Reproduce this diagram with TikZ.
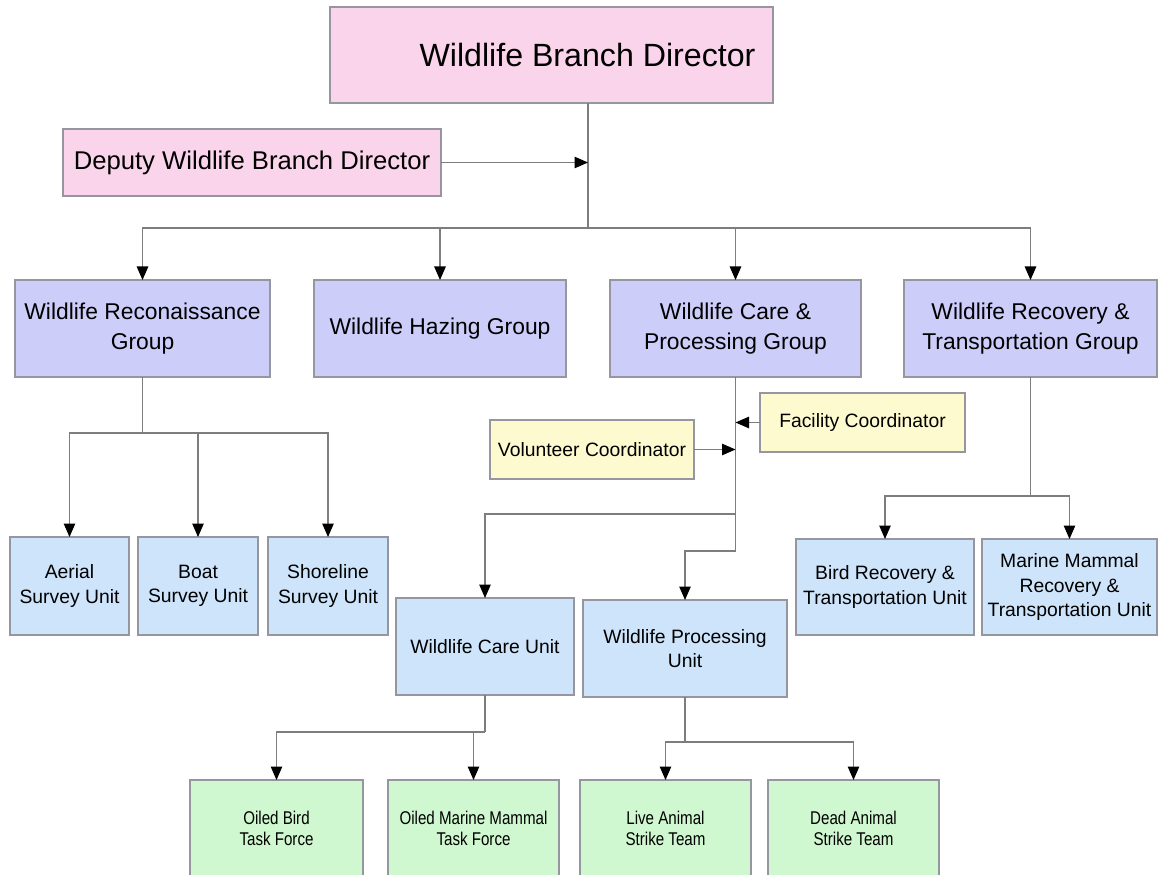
\documentclass[tikz,border=0pt]{standalone}
\usepackage{fontspec}
\setmainfont{Liberation Sans}
\newfontfamily\narrowfont[FakeStretch=0.82]{Liberation Sans}
\usepackage{xcolor}
\usepackage{tikz}
\usetikzlibrary{arrows.meta}
\definecolor{pinkfill}{RGB}{250,212,234}
\definecolor{groupfill}{RGB}{205,205,250}
\definecolor{unitfill}{RGB}{205,228,250}
\definecolor{coordfill}{RGB}{254,250,208}
\definecolor{teamfill}{RGB}{208,248,208}
\definecolor{boxline}{RGB}{150,150,160}
\definecolor{linkline}{RGB}{125,125,125}
\tikzstyle{box}=[draw=boxline, line width=0.6pt, shape=rectangle, inner sep=0pt, outer sep=0pt, align=center]
\tikzstyle{pink node}=[box, fill=pinkfill]
\tikzstyle{group node}=[box, fill=groupfill, minimum height=1.94cm, font=\fontsize{13}{17}\selectfont]
\tikzstyle{unit node}=[box, fill=unitfill, font=\fontsize{11}{14}\selectfont]
\tikzstyle{coord node}=[box, fill=coordfill, minimum height=1.18cm, font=\fontsize{11}{14}\selectfont]
\tikzstyle{team node}=[box, fill=teamfill, minimum width=3.42cm, minimum height=1.94cm, font=\narrowfont\fontsize{10.5}{12}\selectfont]
\tikzstyle{link}=[draw=linkline, line width=0.6pt]
\tikzstyle{arrow link}=[link, -{Triangle[length=0.27cm, width=0.23cm, color=black]}]
\pgfdeclarelayer{nodelayer}
\pgfdeclarelayer{edgelayer}
\pgfsetlayers{main,nodelayer,edgelayer}

\begin{document}
\begin{tikzpicture}
    	\useasboundingbox[fill=white] (0, 0) rectangle (23.18, -17.5);
    	\begin{pgfonlayer}{nodelayer}
    		\node [style=pink node, minimum width=8.86cm, minimum height=1.92cm, font=\fontsize{18.3}{22}\selectfont] (0) at (11.03, -1.1) {\hspace*{1.44cm}Wildlife Branch Director};
    		\node [style=pink node, minimum width=7.56cm, minimum height=1.34cm, font=\fontsize{14.6}{18}\selectfont] (1) at (5.04, -3.25) {Deputy Wildlife Branch Director};
    		\node [style=group node, minimum width=5.1cm] (2) at (2.85, -6.57) {Wildlife Reconaissance\\Group};
    		\node [style=group node, minimum width=5.04cm] (3) at (8.8, -6.57) {Wildlife Hazing Group};
    		\node [style=group node, minimum width=5.02cm] (4) at (14.71, -6.57) {Wildlife Care \&\\Processing Group};
    		\node [style=group node, minimum width=5.06cm] (5) at (20.61, -6.57) {Wildlife Recovery \&\\Transportation Group};
    		\node [style=unit node, minimum width=2.38cm, minimum height=1.96cm] (6) at (1.39, -11.72) {Aerial\\Survey Unit};
    		\node [style=unit node, minimum width=2.4cm, minimum height=1.96cm] (7) at (3.96, -11.72) {Boat\\Survey Unit};
    		\node [style=unit node, minimum width=2.4cm, minimum height=1.96cm] (8) at (6.56, -11.72) {Shoreline\\Survey Unit};
    		\node [style=coord node, minimum width=4.1cm] (9) at (17.25, -8.45) {Facility Coordinator};
    		\node [style=coord node, minimum width=4.08cm] (10) at (11.84, -8.99) {Volunteer Coordinator};
    		\node [style=unit node, minimum width=3.56cm, minimum height=1.94cm] (11) at (9.7, -12.93) {Wildlife Care Unit};
    		\node [style=unit node, minimum width=4.08cm, minimum height=1.94cm] (12) at (13.7, -12.97) {Wildlife Processing\\Unit};
    		\node [style=unit node, minimum width=3.56cm, minimum height=1.92cm] (13) at (17.7, -11.74) {Bird Recovery \&\\Transportation Unit};
    		\node [style=unit node, minimum width=3.5cm, minimum height=1.92cm] (14) at (21.39, -11.74) {Marine Mammal\\Recovery \&\\Transportation Unit};
    		\node [style=team node, minimum width=3.46cm] (15) at (5.53, -16.57) {Oiled Bird\\Task Force};
    		\node [style=team node] (16) at (9.47, -16.57) {Oiled Marine Mammal\\Task Force};
    		\node [style=team node] (17) at (13.31, -16.57) {Live Animal\\Strike Team};
    		\node [style=team node] (18) at (17.07, -16.57) {Dead Animal\\Strike Team};
    		\coordinate (19) at (11.76, -4.56);
    		\coordinate (20) at (2.85, -8.66);
    		\coordinate (21) at (14.71, -10.28);
    		\coordinate (22) at (14.71, -11.02);
    		\coordinate (23) at (20.61, -9.92);
    		\coordinate (24) at (9.7, -14.64);
    		\coordinate (25) at (13.7, -14.84);
    	\end{pgfonlayer}
    	\begin{pgfonlayer}{edgelayer}
    		\draw [style=link] (0.south -| 19) to (19);
    		\draw [style=arrow link] (1.east) to (1.east -| 19);
    		\foreach \n in {2,3,4,5}
    			\draw [style=arrow link] (19) -| (\n.north);
    		\draw [style=link] (2.south) to (20);
    		\foreach \n in {6,7,8}
    			\draw [style=arrow link] (20) -| (\n.north);
    		\draw [style=link] (4.south) to (22);
    		\draw [style=arrow link] (9.west) to (9.west -| 4.south);
    		\draw [style=arrow link] (10.east) to (10.east -| 4.south);
    		\draw [style=arrow link] (21) -| (11.north);
    		\draw [style=arrow link] (22) -| (12.north);
    		\draw [style=link] (5.south) to (23);
    		\foreach \n in {13,14}
    			\draw [style=arrow link] (23) -| (\n.north);
    		\draw [style=link] (11.south) to (24);
    		\foreach \n in {15,16}
    			\draw [style=arrow link] (24) -| (\n.north);
    		\draw [style=link] (12.south) to (25);
    		\foreach \n in {17,18}
    			\draw [style=arrow link] (25) -| (\n.north);
    	\end{pgfonlayer}
    \end{tikzpicture}
\end{document}
